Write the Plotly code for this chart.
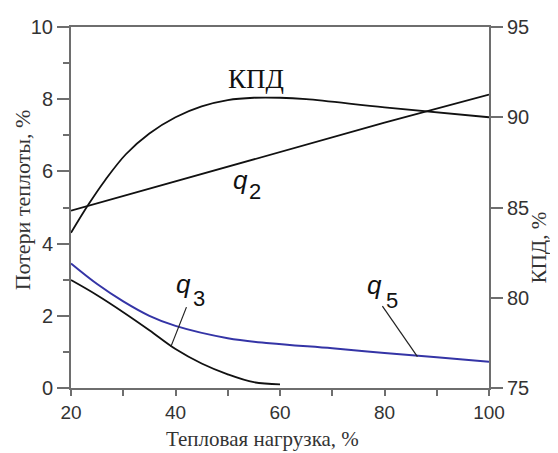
import plotly.graph_objects as go

# ---- data ----
load_kpd = [20, 23.3, 26.5, 30.5, 35, 40, 45, 50, 55, 60, 65, 80, 100]
kpd = [83.6, 85.15, 86.5, 87.95, 89.1, 90.0, 90.6, 90.95, 91.08, 91.08, 91.0, 90.55, 90.0]

load_q2 = [20, 40, 60, 80, 100]
q2 = [4.91, 5.72, 6.55, 7.35, 8.13]

load_q3 = [20, 25, 30, 35, 40, 45, 50, 55, 60]
q3 = [2.99, 2.57, 2.1, 1.6, 1.08, 0.68, 0.38, 0.16, 0.10]

load_q5 = [20, 25, 30, 35, 40, 50, 58, 70, 80, 90, 100]
q5 = [3.45, 2.88, 2.4, 2.0, 1.72, 1.38, 1.24, 1.1, 0.97, 0.85, 0.73]

x_ticks = [20, 40, 60, 80, 100]
y_ticks = [0, 2, 4, 6, 8, 10]
y2_ticks = [75, 80, 85, 90, 95]

x_title = "Тепловая нагрузка, %"
y_title = "Потери теплоты, %"
y2_title = "КПД, %"

AX = "#6e6e6e"
TXT = "#333333"
SANS = "Liberation Sans, Arial, sans-serif"
SERIF = "Liberation Serif, Times New Roman, serif"

fig = go.Figure()
fig.add_trace(go.Scatter(x=load_q2, y=q2, mode="lines",
                         line=dict(color="#111111", width=1.8), yaxis="y"))
fig.add_trace(go.Scatter(x=load_q3, y=q3, mode="lines", line_shape="spline",
                         line=dict(color="#111111", width=1.8), yaxis="y"))
fig.add_trace(go.Scatter(x=load_q5, y=q5, mode="lines", line_shape="spline",
                         line=dict(color="#3434a6", width=2), yaxis="y"))
fig.add_trace(go.Scatter(x=load_kpd, y=kpd, mode="lines", line_shape="spline",
                         line=dict(color="#111111", width=1.8), yaxis="y2"))

# page body has an 8px default margin, so the figure is sized/shifted to compensate
fig.update_layout(
    width=550, height=445,
    margin=dict(l=63, r=69, t=19, b=65, autoexpand=False),
    paper_bgcolor="white", plot_bgcolor="white",
    showlegend=False,
    xaxis=dict(range=[20, 100], tickvals=x_ticks, ticktext=[str(v) for v in x_ticks],
               ticks="outside", ticklen=6, tickwidth=1.5, tickcolor=AX,
               minor=dict(dtick=10, ticks="outside", ticklen=6, tickwidth=1.5, tickcolor=AX),
               showline=True, linecolor=AX, linewidth=2, mirror=True,
               showgrid=False, zeroline=False,
               tickfont=dict(family=SANS, size=19, color=TXT)),
    yaxis=dict(range=[0, 10], tickvals=y_ticks, ticktext=[str(v) for v in y_ticks],
               ticks="outside", ticklen=12, tickwidth=1.5, tickcolor=AX,
               minor=dict(dtick=1, ticks="outside", ticklen=6, tickwidth=1.5, tickcolor=AX),
               showline=True, linecolor=AX, linewidth=2, mirror=True,
               showgrid=False, zeroline=False,
               tickfont=dict(family=SANS, size=20, color=TXT)),
    yaxis2=dict(range=[75, 95], tickvals=y2_ticks, ticktext=[str(v) for v in y2_ticks],
                overlaying="y", side="right",
                ticks="outside", ticklen=12, tickwidth=1.5, tickcolor=AX,
                showline=True, linecolor=AX, linewidth=2,
                showgrid=False, zeroline=False,
                tickfont=dict(family=SANS, size=20, color=TXT)),
)

annotations = [
    # axis titles
    dict(text=x_title, xref="paper", yref="paper", x=0.457, y=-0.142,
         showarrow=False, font=dict(family=SERIF, size=21, color=TXT),
         xanchor="center", yanchor="middle"),
    dict(text=y_title, xref="paper", yref="paper", x=-0.117, y=0.52, textangle=-90,
         showarrow=False, font=dict(family=SERIF, size=22, color=TXT),
         xanchor="center", yanchor="middle"),
    dict(text=y2_title, xref="paper", yref="paper", x=1.12, y=0.39, textangle=-90,
         showarrow=False, font=dict(family=SERIF, size=21, color=TXT),
         xanchor="center", yanchor="middle"),
    # curve labels
    dict(text="КПД", x=55.5, y=8.56, xref="x", yref="y", showarrow=False,
         font=dict(family=SERIF, size=27, color="#111111")),
    dict(text="<i>q</i>", x=52.5, y=5.75, xref="x", yref="y", showarrow=False,
         font=dict(family=SANS, size=26, color="#111111")),
    dict(text="2", x=55.2, y=5.43, xref="x", yref="y", showarrow=False,
         font=dict(family=SANS, size=22, color="#111111")),
    dict(text="<i>q</i>", x=41.6, y=2.87, xref="x", yref="y", showarrow=False,
         font=dict(family=SANS, size=26, color="#111111")),
    dict(text="3", x=44.5, y=2.49, xref="x", yref="y", showarrow=False,
         font=dict(family=SANS, size=22, color="#111111")),
    dict(text="<i>q</i>", x=78.05, y=2.86, xref="x", yref="y", showarrow=False,
         font=dict(family=SANS, size=26, color="#111111")),
    dict(text="5", x=81.4, y=2.42, xref="x", yref="y", showarrow=False,
         font=dict(family=SANS, size=22, color="#111111")),
]
fig.update_layout(annotations=annotations)

# leader lines for labels
fig.add_shape(type="line", xref="x", yref="y", x0=42.1, y0=2.24, x1=39.1, y1=1.14,
              line=dict(color="#222222", width=1.2))
fig.add_shape(type="line", xref="x", yref="y", x0=79.6, y0=2.27, x1=86.3, y1=0.87,
              line=dict(color="#222222", width=1.2))

fig.write_html("out.html")
